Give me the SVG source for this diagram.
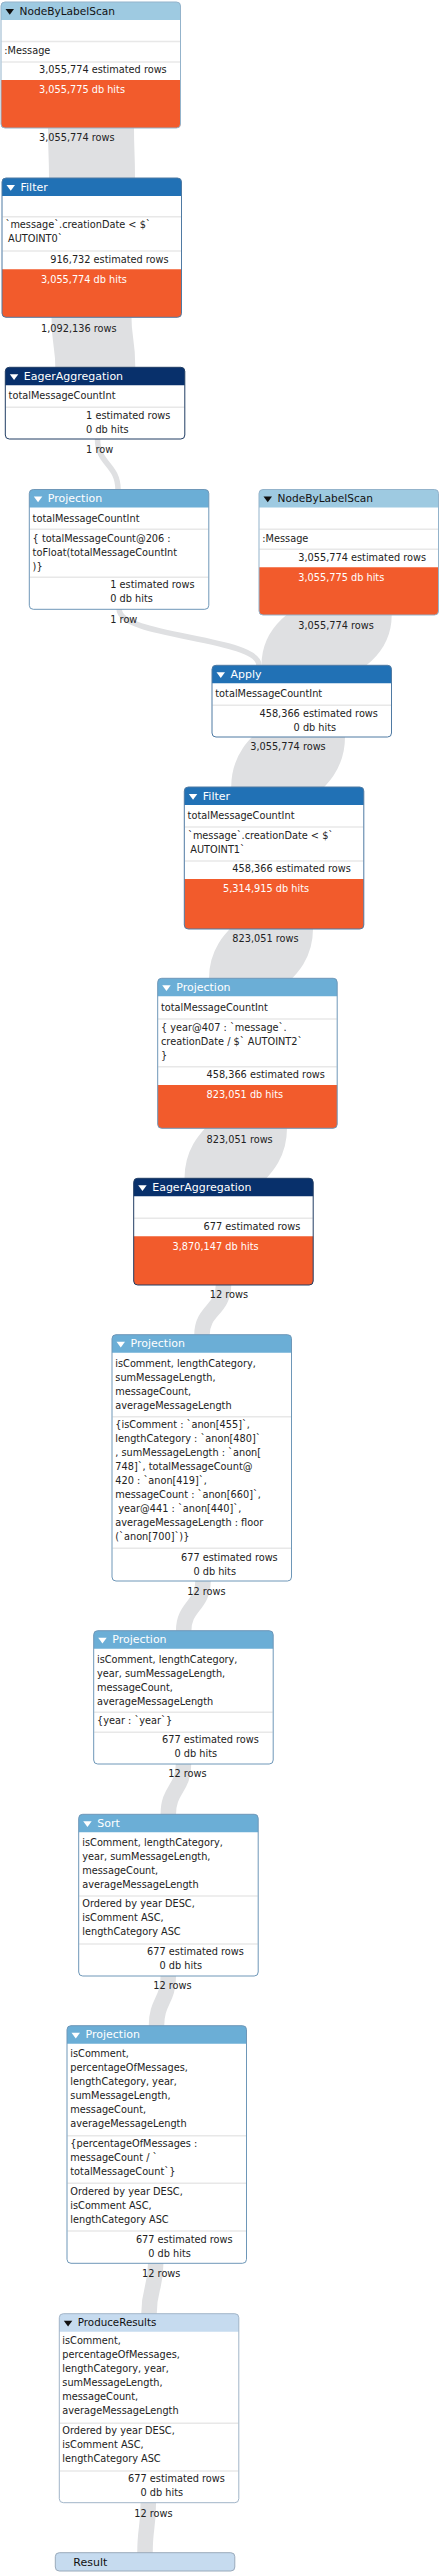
<svg xmlns="http://www.w3.org/2000/svg" width="439" height="2573" viewBox="0 0 439 2573">
<style>
.t{font-family:"DejaVu Sans",Verdana,sans-serif;font-size:9.75px;fill:#222}
.e{text-anchor:end}
.w{fill:#fff}
.h{font-family:"DejaVu Sans",Verdana,sans-serif;font-size:11px;fill:#fff}
.hd{fill:#111}
.bg{fill:#fff}
.sep{stroke:#e8e8e8;stroke-width:1.5}
.hit{fill:#f25b2c}
.lk{fill:none;stroke:#dfe0e2;stroke-linecap:butt}
.scan{fill:#9ecae1}.scanB{fill:none;stroke:#93b3cb}
.filt{fill:#2171b5}.filtB{fill:none;stroke:#4f7aa3}
.agg{fill:#08306b}.aggB{fill:none;stroke:#203c63}
.proj{fill:#6baed6}.projB{fill:none;stroke:#6e97b8}
.res{fill:#c6dbef}.resB{fill:none;stroke:#a2b5c8}
</style>
<g id="connectors">
<path class="lk" stroke-width="86" d="M91,125 L91,128 C91,153 92,153 92,178 L92,181"/>
<path class="lk" stroke-width="80" d="M91.5,314 L91.5,317.3 C91.5,342.3 95.3,342.3 95.3,367.3 L95.3,370"/>
<path class="lk" stroke-width="5.5" d="M97.5,436 L97.5,439 C97.5,464.2 118,464.2 118,489.5 L118,492"/>
<path class="lk" stroke-width="5.5" d="M119.2,606 L119.2,609.3 C119.2,637.3 259,637.3 259,665.3 L259,668"/>
<path class="lk" stroke-width="86" d="M348.7,612 L348.7,615 C348.7,640 304.5,640 304.5,665.3 L304.5,668"/>
<path class="lk" stroke-width="86" d="M302,734 L302,737 C302,762 274.2,762 274.2,787 L274.2,790"/>
<path class="lk" stroke-width="79" d="M273.5,926 L273.5,929 C273.5,953.7 248.5,953.7 248.5,978.3 L248.5,981"/>
<path class="lk" stroke-width="79" d="M247.5,1125 L247.5,1128.3 C247.5,1153.3 224,1153.3 224,1178.3 L224,1181"/>
<path class="lk" stroke-width="15.5" d="M223.5,1282 L223.5,1285 C223.5,1310 202,1310 202,1334.7 L202,1338"/>
<path class="lk" stroke-width="15.5" d="M203,1578 L203,1581 C203,1606 183.7,1606 183.7,1630.7 L183.7,1634"/>
<path class="lk" stroke-width="15.5" d="M183.5,1761 L183.5,1764 C183.5,1789 168.3,1789 168.3,1814.3 L168.3,1817"/>
<path class="lk" stroke-width="15.5" d="M168.3,1973 L168.3,1976 C168.3,2001 156.5,2001 156.5,2025.7 L156.5,2029"/>
<path class="lk" stroke-width="15.5" d="M155.7,2260 L155.7,2263.3 C155.7,2288.5 149,2288.5 149,2313.7 L149,2317"/>
<path class="lk" stroke-width="15.5" d="M148.3,2500 L148.3,2502.7 C148.3,2527.7 145,2527.7 145,2552.7 L145,2556"/>
<text class="t e" x="88.6" y="141">3,055,774</text><text class="t" x="91.7" y="141">rows</text>
<text class="t e" x="90.6" y="331.6">1,092,136</text><text class="t" x="93.7" y="331.6">rows</text>
<text class="t e" x="92.3" y="453.3">1</text><text class="t" x="95.4" y="453.3">row</text>
<text class="t e" x="116.5" y="622.7">1</text><text class="t" x="119.6" y="622.7">row</text>
<text class="t e" x="347.9" y="629.3">3,055,774</text><text class="t" x="351" y="629.3">rows</text>
<text class="t e" x="299.8" y="750">3,055,774</text><text class="t" x="302.9" y="750">rows</text>
<text class="t e" x="272.7" y="942.3">823,051</text><text class="t" x="275.8" y="942.3">rows</text>
<text class="t e" x="246.8" y="1142.7">823,051</text><text class="t" x="249.9" y="1142.7">rows</text>
<text class="t e" x="222.2" y="1298.3">12</text><text class="t" x="225.3" y="1298.3">rows</text>
<text class="t e" x="199.6" y="1595">12</text><text class="t" x="202.7" y="1595">rows</text>
<text class="t e" x="180.7" y="1777.3">12</text><text class="t" x="183.8" y="1777.3">rows</text>
<text class="t e" x="165.7" y="1989.3">12</text><text class="t" x="168.8" y="1989.3">rows</text>
<text class="t e" x="154.5" y="2276.7">12</text><text class="t" x="157.6" y="2276.7">rows</text>
<text class="t e" x="146.7" y="2516.7">12</text><text class="t" x="149.8" y="2516.7">rows</text>
</g>

<g id="node-scan1">
<rect class="bg" x="1" y="2" width="179.5" height="126" rx="4"/>
<path class="scan" d="M1,20 V6 Q1,2 5,2 H176.5 Q180.5,2 180.5,6 V20 Z"/>
<polygon class="hd" points="5.5,9 14,9 9.75,14.7"/>
<text class="h hd" x="19.5" y="14.6" style="font-size:10.6px">NodeByLabelScan</text>
<line class="sep" x1="1.5" y1="41.5" x2="180" y2="41.5"/>
<text class="t" x="4.3" y="54">:Message</text>
<line class="sep" x1="1.5" y1="62" x2="180" y2="62"/>
<text class="t e" x="88.6" y="73.3">3,055,774</text><text class="t" x="91.7" y="73.3">estimated rows</text>
<path class="hit" d="M1,80 H180.5 V124 Q180.5,128 176.5,128 H5 Q1,128 1,124 Z"/>
<text class="t e w" x="88.6" y="93.3">3,055,775</text><text class="t w" x="91.7" y="93.3">db hits</text>
<rect class="scanB" x="1" y="2" width="179.5" height="126" rx="4"/>
</g>

<g id="node-filter1">
<rect class="bg" x="2" y="178" width="179.5" height="139.3" rx="4"/>
<path class="filt" d="M2,196 V182 Q2,178 6,178 H177.5 Q181.5,178 181.5,182 V196 Z"/>
<polygon class="w" points="6.5,185 15,185 10.75,190.7"/>
<text class="h" x="20.5" y="190.6">Filter</text>
<line class="sep" x1="2.5" y1="216.7" x2="181" y2="216.7"/>
<text class="t" x="5.5" y="228.3">`message`.creationDate &lt; $`</text>
<text class="t" x="8" y="242.3">AUTOINT0`</text>
<line class="sep" x1="2.5" y1="251" x2="181" y2="251"/>
<text class="t e" x="90.5" y="263.3">916,732</text><text class="t" x="93.6" y="263.3">estimated rows</text>
<path class="hit" d="M2,269.3 H181.5 V313.3 Q181.5,317.3 177.5,317.3 H6 Q2,317.3 2,313.3 Z"/>
<text class="t e w" x="90.5" y="282.7">3,055,774</text><text class="t w" x="93.6" y="282.7">db hits</text>
<rect class="filtB" x="2" y="178" width="179.5" height="139.3" rx="4"/>
</g>

<g id="node-agg1">
<rect class="bg" x="5.3" y="367.3" width="179.5" height="71.7" rx="4"/>
<path class="agg" d="M5.3,385.3 V371.3 Q5.3,367.3 9.3,367.3 H180.8 Q184.8,367.3 184.8,371.3 V385.3 Z"/>
<polygon class="w" points="9.8,374.3 18.3,374.3 14.05,380"/>
<text class="h" x="23.8" y="379.9">EagerAggregation</text>
<text class="t" x="8.6" y="399.3">totalMessageCountInt</text>
<line class="sep" x1="5.8" y1="407.3" x2="184.3" y2="407.3"/>
<text class="t e" x="92.3" y="419">1</text><text class="t" x="95.4" y="419">estimated rows</text>
<text class="t e" x="92.3" y="433">0</text><text class="t" x="95.4" y="433">db hits</text>
<rect class="aggB" x="5.3" y="367.3" width="179.5" height="71.7" rx="4"/>
</g>

<g id="node-proj1">
<rect class="bg" x="29.3" y="489.5" width="179.5" height="119.8" rx="4"/>
<path class="proj" d="M29.3,507.5 V493.5 Q29.3,489.5 33.3,489.5 H204.8 Q208.8,489.5 208.8,493.5 V507.5 Z"/>
<polygon class="w" points="33.8,496.5 42.3,496.5 38.05,502.2"/>
<text class="h" x="47.8" y="502.1">Projection</text>
<text class="t" x="32.6" y="521.7">totalMessageCountInt</text>
<line class="sep" x1="29.8" y1="529.3" x2="208.3" y2="529.3"/>
<text class="t" x="32.6" y="541.7">{ totalMessageCount@206 :</text>
<text class="t" x="32.6" y="555.7">toFloat(totalMessageCountInt</text>
<text class="t" x="32.6" y="569.7">)}</text>
<line class="sep" x1="29.8" y1="577.3" x2="208.3" y2="577.3"/>
<text class="t e" x="116.5" y="588.3">1</text><text class="t" x="119.6" y="588.3">estimated rows</text>
<text class="t e" x="116.5" y="602.3">0</text><text class="t" x="119.6" y="602.3">db hits</text>
<rect class="projB" x="29.3" y="489.5" width="179.5" height="119.8" rx="4"/>
</g>

<g id="node-scan2">
<rect class="bg" x="259" y="489.5" width="179.5" height="125.5" rx="4"/>
<path class="scan" d="M259,507.5 V493.5 Q259,489.5 263,489.5 H434.5 Q438.5,489.5 438.5,493.5 V507.5 Z"/>
<polygon class="hd" points="263.5,496.5 272,496.5 267.75,502.2"/>
<text class="h hd" x="277.5" y="502.1" style="font-size:10.6px">NodeByLabelScan</text>
<line class="sep" x1="259.5" y1="529.3" x2="438" y2="529.3"/>
<text class="t" x="262.3" y="541.7">:Message</text>
<line class="sep" x1="259.5" y1="549.3" x2="438" y2="549.3"/>
<text class="t e" x="347.9" y="560.7">3,055,774</text><text class="t" x="351" y="560.7">estimated rows</text>
<path class="hit" d="M259,567.3 H438.5 V611 Q438.5,615 434.5,615 H263 Q259,615 259,611 Z"/>
<text class="t e w" x="347.9" y="580.7">3,055,775</text><text class="t w" x="351" y="580.7">db hits</text>
<rect class="scanB" x="259" y="489.5" width="179.5" height="125.5" rx="4"/>
</g>

<g id="node-apply">
<rect class="bg" x="212" y="665.3" width="179.5" height="71.7" rx="4"/>
<path class="filt" d="M212,683.3 V669.3 Q212,665.3 216,665.3 H387.5 Q391.5,665.3 391.5,669.3 V683.3 Z"/>
<polygon class="w" points="216.5,672.3 225,672.3 220.75,678"/>
<text class="h" x="230.5" y="677.9">Apply</text>
<text class="t" x="215.3" y="697">totalMessageCountInt</text>
<line class="sep" x1="212.5" y1="705.3" x2="391" y2="705.3"/>
<text class="t e" x="299.8" y="716.7">458,366</text><text class="t" x="302.9" y="716.7">estimated rows</text>
<text class="t e" x="299.8" y="730.7">0</text><text class="t" x="302.9" y="730.7">db hits</text>
<rect class="filtB" x="212" y="665.3" width="179.5" height="71.7" rx="4"/>
</g>

<g id="node-filter2">
<rect class="bg" x="184.3" y="787" width="179.5" height="142" rx="4"/>
<path class="filt" d="M184.3,805 V791 Q184.3,787 188.3,787 H359.8 Q363.8,787 363.8,791 V805 Z"/>
<polygon class="w" points="188.8,794 197.3,794 193.05,799.7"/>
<text class="h" x="202.8" y="799.6">Filter</text>
<text class="t" x="187.6" y="818.5">totalMessageCountInt</text>
<line class="sep" x1="184.8" y1="827" x2="363.3" y2="827"/>
<text class="t" x="188" y="838.5">`message`.creationDate &lt; $`</text>
<text class="t" x="190.3" y="852.5">AUTOINT1`</text>
<line class="sep" x1="184.8" y1="861" x2="363.3" y2="861"/>
<text class="t e" x="272.7" y="872.3">458,366</text><text class="t" x="275.8" y="872.3">estimated rows</text>
<path class="hit" d="M184.3,879 H363.8 V925 Q363.8,929 359.8,929 H188.3 Q184.3,929 184.3,925 Z"/>
<text class="t e w" x="272.7" y="892.3">5,314,915</text><text class="t w" x="275.8" y="892.3">db hits</text>
<rect class="filtB" x="184.3" y="787" width="179.5" height="142" rx="4"/>
</g>

<g id="node-proj2">
<rect class="bg" x="157.7" y="978.3" width="179.5" height="150" rx="4"/>
<path class="proj" d="M157.7,996.3 V982.3 Q157.7,978.3 161.7,978.3 H333.2 Q337.2,978.3 337.2,982.3 V996.3 Z"/>
<polygon class="w" points="162.2,985.3 170.7,985.3 166.45,991"/>
<text class="h" x="176.2" y="990.9">Projection</text>
<text class="t" x="161" y="1010.7">totalMessageCountInt</text>
<line class="sep" x1="158.2" y1="1019" x2="336.7" y2="1019"/>
<text class="t" x="161" y="1030.7">{ year@407 : `message`.</text>
<text class="t" x="161" y="1044.7">creationDate / $` AUTOINT2`</text>
<text class="t" x="161" y="1058.7">}</text>
<line class="sep" x1="158.2" y1="1066.7" x2="336.7" y2="1066.7"/>
<text class="t e" x="246.8" y="1078.2">458,366</text><text class="t" x="249.9" y="1078.2">estimated rows</text>
<path class="hit" d="M157.7,1085 H337.2 V1124.3 Q337.2,1128.3 333.2,1128.3 H161.7 Q157.7,1128.3 157.7,1124.3 Z"/>
<text class="t e w" x="246.8" y="1098.3">823,051</text><text class="t w" x="249.9" y="1098.3">db hits</text>
<rect class="projB" x="157.7" y="978.3" width="179.5" height="150" rx="4"/>
</g>

<g id="node-agg2">
<rect class="bg" x="133.7" y="1178.3" width="179.5" height="106.7" rx="4"/>
<path class="agg" d="M133.7,1196.3 V1182.3 Q133.7,1178.3 137.7,1178.3 H309.2 Q313.2,1178.3 313.2,1182.3 V1196.3 Z"/>
<polygon class="w" points="138.2,1185.3 146.7,1185.3 142.45,1191"/>
<text class="h" x="152.2" y="1190.9">EagerAggregation</text>
<line class="sep" x1="134.2" y1="1218.3" x2="312.7" y2="1218.3"/>
<text class="t e" x="222.2" y="1229.7">677</text><text class="t" x="225.3" y="1229.7">estimated rows</text>
<path class="hit" d="M133.7,1236.3 H313.2 V1281 Q313.2,1285 309.2,1285 H137.7 Q133.7,1285 133.7,1281 Z"/>
<text class="t e w" x="222.2" y="1249.7">3,870,147</text><text class="t w" x="225.3" y="1249.7">db hits</text>
<rect class="aggB" x="133.7" y="1178.3" width="179.5" height="106.7" rx="4"/>
</g>

<g id="node-proj3">
<rect class="bg" x="112" y="1334.7" width="179.5" height="246.3" rx="4"/>
<path class="proj" d="M112,1352.7 V1338.7 Q112,1334.7 116,1334.7 H287.5 Q291.5,1334.7 291.5,1338.7 V1352.7 Z"/>
<polygon class="w" points="116.5,1341.7 125,1341.7 120.75,1347.4"/>
<text class="h" x="130.5" y="1347.3">Projection</text>
<text class="t" x="115.3" y="1366.7">isComment, lengthCategory,</text>
<text class="t" x="115.3" y="1380.7">sumMessageLength,</text>
<text class="t" x="115.3" y="1394.7">messageCount,</text>
<text class="t" x="115.3" y="1408.7">averageMessageLength</text>
<line class="sep" x1="112.5" y1="1416.7" x2="291" y2="1416.7"/>
<text class="t" x="115.3" y="1428.3">{isComment : `anon[455]`,</text>
<text class="t" x="115.3" y="1442.3">lengthCategory : `anon[480]`</text>
<text class="t" x="115.3" y="1456.3">, sumMessageLength : `anon[</text>
<text class="t" x="115.3" y="1470.3">748]`, totalMessageCount@</text>
<text class="t" x="115.3" y="1484.3">420 : `anon[419]`,</text>
<text class="t" x="115.3" y="1498.3">messageCount : `anon[660]`,</text>
<text class="t" x="118.3" y="1512.3">year@441 : `anon[440]`,</text>
<text class="t" x="115.3" y="1526.3">averageMessageLength : floor</text>
<text class="t" x="115.3" y="1540.3">(`anon[700]`)}</text>
<line class="sep" x1="112.5" y1="1548.3" x2="291" y2="1548.3"/>
<text class="t e" x="199.6" y="1560.7">677</text><text class="t" x="202.7" y="1560.7">estimated rows</text>
<text class="t e" x="199.6" y="1574.7">0</text><text class="t" x="202.7" y="1574.7">db hits</text>
<rect class="projB" x="112" y="1334.7" width="179.5" height="246.3" rx="4"/>
</g>

<g id="node-proj4">
<rect class="bg" x="93.7" y="1630.7" width="179.5" height="133.3" rx="4"/>
<path class="proj" d="M93.7,1648.7 V1634.7 Q93.7,1630.7 97.7,1630.7 H269.2 Q273.2,1630.7 273.2,1634.7 V1648.7 Z"/>
<polygon class="w" points="98.2,1637.7 106.7,1637.7 102.45,1643.4"/>
<text class="h" x="112.2" y="1643.3">Projection</text>
<text class="t" x="97" y="1662.7">isComment, lengthCategory,</text>
<text class="t" x="97" y="1676.7">year, sumMessageLength,</text>
<text class="t" x="97" y="1690.7">messageCount,</text>
<text class="t" x="97" y="1704.7">averageMessageLength</text>
<line class="sep" x1="94.2" y1="1712.3" x2="272.7" y2="1712.3"/>
<text class="t" x="97" y="1724">{year : `year`}</text>
<line class="sep" x1="94.2" y1="1732.3" x2="272.7" y2="1732.3"/>
<text class="t e" x="180.7" y="1743.3">677</text><text class="t" x="183.8" y="1743.3">estimated rows</text>
<text class="t e" x="180.7" y="1757.3">0</text><text class="t" x="183.8" y="1757.3">db hits</text>
<rect class="projB" x="93.7" y="1630.7" width="179.5" height="133.3" rx="4"/>
</g>

<g id="node-sort">
<rect class="bg" x="78.7" y="1814.3" width="179.5" height="161.7" rx="4"/>
<path class="proj" d="M78.7,1832.3 V1818.3 Q78.7,1814.3 82.7,1814.3 H254.2 Q258.2,1814.3 258.2,1818.3 V1832.3 Z"/>
<polygon class="w" points="83.2,1821.3 91.7,1821.3 87.45,1827"/>
<text class="h" x="97.2" y="1826.9">Sort</text>
<text class="t" x="82.3" y="1845.7">isComment, lengthCategory,</text>
<text class="t" x="82.3" y="1859.7">year, sumMessageLength,</text>
<text class="t" x="82.3" y="1873.7">messageCount,</text>
<text class="t" x="82.3" y="1887.7">averageMessageLength</text>
<line class="sep" x1="79.2" y1="1896" x2="257.7" y2="1896"/>
<text class="t" x="82.3" y="1907.3">Ordered by year DESC,</text>
<text class="t" x="82.3" y="1921.3">isComment ASC,</text>
<text class="t" x="82.3" y="1935.3">lengthCategory ASC</text>
<line class="sep" x1="79.2" y1="1944" x2="257.7" y2="1944"/>
<text class="t e" x="165.7" y="1955">677</text><text class="t" x="168.8" y="1955">estimated rows</text>
<text class="t e" x="165.7" y="1969">0</text><text class="t" x="168.8" y="1969">db hits</text>
<rect class="projB" x="78.7" y="1814.3" width="179.5" height="161.7" rx="4"/>
</g>

<g id="node-proj5">
<rect class="bg" x="67" y="2025.7" width="179.5" height="237.6" rx="4"/>
<path class="proj" d="M67,2043.7 V2029.7 Q67,2025.7 71,2025.7 H242.5 Q246.5,2025.7 246.5,2029.7 V2043.7 Z"/>
<polygon class="w" points="71.5,2032.7 80,2032.7 75.75,2038.4"/>
<text class="h" x="85.5" y="2038.3">Projection</text>
<text class="t" x="70.3" y="2057.3">isComment,</text>
<text class="t" x="70.3" y="2071.3">percentageOfMessages,</text>
<text class="t" x="70.3" y="2085.3">lengthCategory, year,</text>
<text class="t" x="70.3" y="2099.3">sumMessageLength,</text>
<text class="t" x="70.3" y="2113.3">messageCount,</text>
<text class="t" x="70.3" y="2127.3">averageMessageLength</text>
<line class="sep" x1="67.5" y1="2135.7" x2="246" y2="2135.7"/>
<text class="t" x="70.3" y="2147.3">{percentageOfMessages :</text>
<text class="t" x="70.3" y="2161.3">messageCount / `</text>
<text class="t" x="70.3" y="2175.3">totalMessageCount`}</text>
<line class="sep" x1="67.5" y1="2183.3" x2="246" y2="2183.3"/>
<text class="t" x="70.3" y="2195">Ordered by year DESC,</text>
<text class="t" x="70.3" y="2209">isComment ASC,</text>
<text class="t" x="70.3" y="2223">lengthCategory ASC</text>
<line class="sep" x1="67.5" y1="2231" x2="246" y2="2231"/>
<text class="t e" x="154.5" y="2243.3">677</text><text class="t" x="157.6" y="2243.3">estimated rows</text>
<text class="t e" x="154.5" y="2257.3">0</text><text class="t" x="157.6" y="2257.3">db hits</text>
<rect class="projB" x="67" y="2025.7" width="179.5" height="237.6" rx="4"/>
</g>

<g id="node-produce">
<rect class="bg" x="59.3" y="2313.7" width="179.5" height="189" rx="4"/>
<path class="res" d="M59.3,2331.7 V2317.7 Q59.3,2313.7 63.3,2313.7 H234.8 Q238.8,2313.7 238.8,2317.7 V2331.7 Z"/>
<polygon class="hd" points="63.8,2320.7 72.3,2320.7 68.05,2326.4"/>
<text class="h hd" x="77.8" y="2326.3" style="font-size:10.3px">ProduceResults</text>
<text class="t" x="62.3" y="2344.3">isComment,</text>
<text class="t" x="62.3" y="2358.3">percentageOfMessages,</text>
<text class="t" x="62.3" y="2372.3">lengthCategory, year,</text>
<text class="t" x="62.3" y="2386.3">sumMessageLength,</text>
<text class="t" x="62.3" y="2400.3">messageCount,</text>
<text class="t" x="62.3" y="2414.3">averageMessageLength</text>
<line class="sep" x1="59.8" y1="2423.3" x2="238.3" y2="2423.3"/>
<text class="t" x="62.3" y="2434.3">Ordered by year DESC,</text>
<text class="t" x="62.3" y="2448.3">isComment ASC,</text>
<text class="t" x="62.3" y="2462.3">lengthCategory ASC</text>
<line class="sep" x1="59.8" y1="2471" x2="238.3" y2="2471"/>
<text class="t e" x="146.7" y="2482.3">677</text><text class="t" x="149.8" y="2482.3">estimated rows</text>
<text class="t e" x="146.7" y="2496.3">0</text><text class="t" x="149.8" y="2496.3">db hits</text>
<rect class="resB" x="59.3" y="2313.7" width="179.5" height="189" rx="4"/>
</g>

<g id="node-result">
<rect class="res" x="55.3" y="2552.7" width="179.5" height="18.3" rx="4"/>
<rect class="resB" x="55.3" y="2552.7" width="179.5" height="18.3" rx="4" style="stroke:#9aaabb"/>
<text class="h hd" x="73.3" y="2565.6">Result</text>
</g>
</svg>
